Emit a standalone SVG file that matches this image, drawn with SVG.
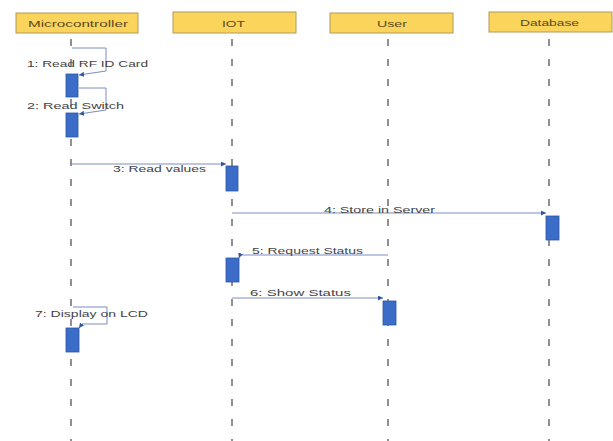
<svg xmlns="http://www.w3.org/2000/svg" width="613" height="441" viewBox="0 0 613 441">
  <defs>
    <style>
      .head { fill: #fbd45c; stroke: #b09a5a; stroke-width: 1; }
      .head-text { font-family: "Liberation Sans", Arial, sans-serif; font-size: 9px; fill: #5a4a20; }
      .life { stroke: #555; stroke-width: 1.3; stroke-dasharray: 7 13; fill: none; }
      .act { fill: #3b6cc8; stroke: #2d56a3; stroke-width: 0.8; }
      .msg { stroke: #7b8dc4; stroke-width: 1; fill: none; }
      .label { font-family: "Liberation Sans", Arial, sans-serif; font-size: 9px; fill: #444; }
    </style>
    <marker id="arrow" viewBox="0 0 6 6" refX="6" refY="3" markerWidth="5" markerHeight="5" orient="auto">
      <path d="M0,0 L6,3 L0,6 z" fill="#2d56a3"/>
    </marker>
  </defs>
  <rect width="613" height="441" fill="#ffffff"/>

  <!-- lifelines -->
  <g id="lifelines">
    <line class="life" x1="71" y1="39" x2="71" y2="441"/>
    <line class="life" x1="232" y1="39" x2="232" y2="441"/>
    <line class="life" x1="388" y1="39" x2="388" y2="441"/>
    <line class="life" x1="549" y1="39" x2="549" y2="441"/>
  </g>

  <g id="microcontroller">
    <rect class="head" x="16" y="13" width="122" height="20"/>
    <text class="head-text" x="28" y="27" textLength="100" lengthAdjust="spacingAndGlyphs">Microcontroller</text>
  </g>
  <g id="iot">
    <rect class="head" x="173" y="12" width="123" height="21"/>
    <text class="head-text" x="222" y="26.5" textLength="23" lengthAdjust="spacingAndGlyphs">IOT</text>
  </g>
  <g id="user">
    <rect class="head" x="330" y="13" width="123" height="20"/>
    <text class="head-text" x="377" y="27" textLength="30" lengthAdjust="spacingAndGlyphs">User</text>
  </g>
  <g id="database">
    <rect class="head" x="489" y="12" width="123" height="20"/>
    <text class="head-text" x="520" y="26" textLength="59" lengthAdjust="spacingAndGlyphs">Database</text>
  </g>

  <!-- activation bars -->
  <g id="activations">
    <rect class="act" x="66" y="74" width="12" height="23"/>
    <rect class="act" x="66" y="113" width="12" height="24"/>
    <rect class="act" x="226" y="166" width="12" height="25"/>
    <rect class="act" x="546" y="216" width="13" height="24"/>
    <rect class="act" x="226" y="258" width="13" height="24"/>
    <rect class="act" x="383" y="301" width="13" height="24"/>
    <rect class="act" x="66" y="328" width="13" height="24"/>
  </g>

  <g id="connectors">
    <path class="msg" d="M72,48 H106 V71 L79,75" marker-end="url(#arrow)"/>
    <path class="msg" d="M79,88 H106 V110 L79,114" marker-end="url(#arrow)"/>
    <path class="msg" d="M71,164 H226" marker-end="url(#arrow)"/>
    <path class="msg" d="M232,213 H546" marker-end="url(#arrow)"/>
    <path class="msg" d="M388,255 H240 L239,258" marker-end="url(#arrow)"/>
    <path class="msg" d="M232,298 H383" marker-end="url(#arrow)"/>
    <path class="msg" d="M73,307 H107 V324 H82 L79,328" marker-end="url(#arrow)"/>
  </g>

  <g id="labels">
    <text class="label" x="27" y="66.5" textLength="121" lengthAdjust="spacingAndGlyphs">1: Read RF ID Card</text>
    <text class="label" x="27" y="109" textLength="97" lengthAdjust="spacingAndGlyphs">2: Read Switch</text>
    <text class="label" x="113" y="171.5" textLength="93" lengthAdjust="spacingAndGlyphs">3: Read values</text>
    <text class="label" x="324" y="213" textLength="111" lengthAdjust="spacingAndGlyphs">4: Store in Server</text>
    <text class="label" x="252" y="254" textLength="111" lengthAdjust="spacingAndGlyphs">5: Request Status</text>
    <text class="label" x="250" y="296" textLength="101" lengthAdjust="spacingAndGlyphs">6: Show Status</text>
    <text class="label" x="35" y="316.5" textLength="113" lengthAdjust="spacingAndGlyphs">7: Display on LCD</text>
  </g>
</svg>
